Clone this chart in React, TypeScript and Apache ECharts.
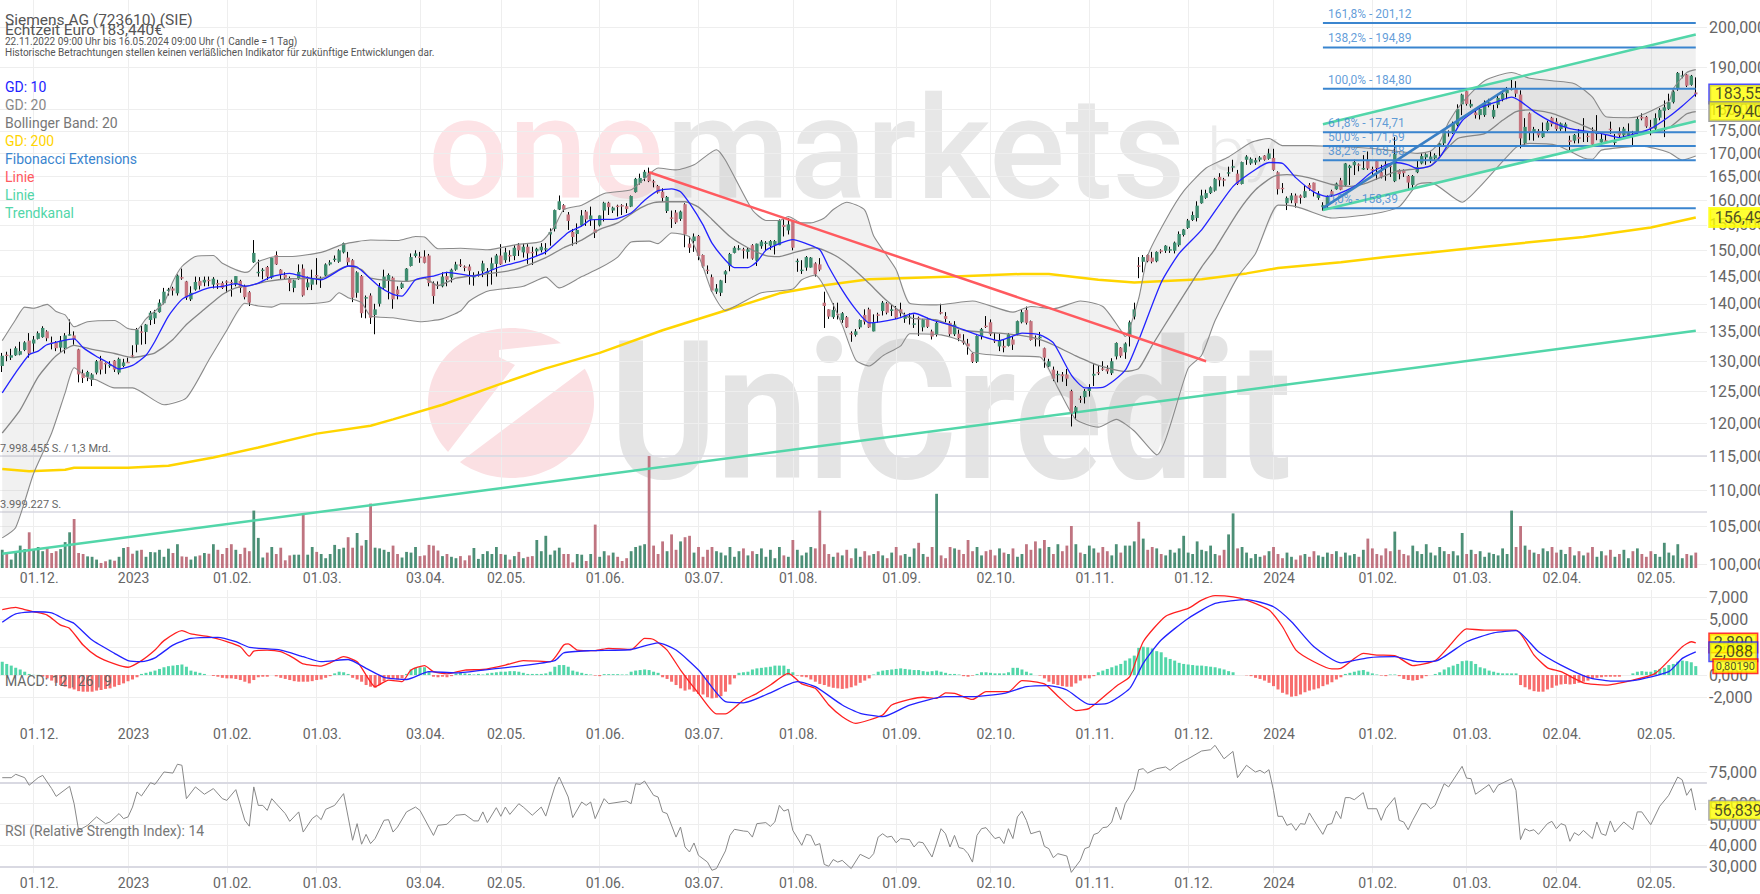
import React, { useEffect, useRef } from "react";
import * as echarts from "echarts";

// [open, close, low, high], one row per trading day, 22.11.2022 - 16.05.2024
const candles = [
[129.2,130.9,128.2,131.4],[131.1,131,130,131.6],[130.6,131,130.2,132.1],[131,132.2,130.9,132.5],[131.1,131.7,131,133.3],
[131.9,133.2,131.7,133.4],[133.5,131.3,130.6,134.8],[133,133.7,131.6,134.3],[133.8,134.8,133.7,135.1],[134.1,135.7,134,136],
[135.1,133.9,133.4,135.3],[133.2,133,132,134.2],[133.2,132.2,131.7,133.4],[132.3,133.5,131.4,134.3],[132.2,134.4,131.3,134.8],
[134.5,134.6,134.4,137.2],[134.4,133.7,132.8,135.1],[132,127.8,126.5,132.1],[128,127.2,126.4,128.6],[127.4,128.2,126.7,128.4],
[126.9,127.8,125.9,128],[128.1,130,127.8,130.2],[130.1,128.6,127.8,130.9],[129.7,129.5,127.9,129.8],[129.2,129.4,128.9,130],
[130.1,128.6,128.2,130.2],[128.1,130.4,127.8,130.6],[129.2,129.8,129,130.4],[129.9,129.8,129.7,130.6],[131,130.9,130.6,132.7],
[132.8,135.4,131.5,135.7],[135.1,134.9,132.8,136.1],[135,136.3,132.9,136.4],[137.1,138.4,136.2,138.7],[137.4,138.4,136.4,138.9],
[138.5,140.2,138.4,140.8],[140.1,142.2,139.9,142.9],[142.5,142.6,141.5,142.9],[142.8,142.4,141.5,143.1],[141.9,145.2,141.5,145.4],
[144.9,144.8,144.4,146.5],[144.1,141.1,140.7,144.2],[140.8,142,140.5,143.2],[142.6,144,142.4,145],[144.2,143.3,142.6,144.9],
[143.9,144.4,143.2,145],[144.4,144.2,143.2,145],[143.5,144.6,142.8,144.9],[143.8,143.5,142.7,144.4],[143.8,142.9,142.7,144.1],
[144.1,143.9,142,144.3],[144,143.8,141.3,144.4],[143.5,145.1,143.2,145.1],[144.2,142.9,142,144.4],[143.2,141.2,140.8,143.5],
[142.1,140.2,139.6,142.3],[147.7,149.5,147.6,152],[145.8,145.9,145,148.2],[146.2,146.3,144.5,146.6],[146.8,145,144.4,147],
[144.8,148.6,144.6,148.6],[149.1,147.3,147.2,149.8],[146.3,145.4,144.4,146.4],[145.3,144.8,144.4,145.8],[144.7,143.8,142.3,145],
[142.9,144.3,142.1,144.4],[144.7,145.9,144.4,147.3],[146.5,141.5,141.3,147.3],[143,143.9,142.5,145],[143.5,144.7,142.5,146.3],
[145.3,145.1,143.5,148.5],[144.6,144.7,142.9,145],[145.2,147.3,145,147.5],[147.3,147.7,147.1,148.1],[148.2,148.4,147.8,149],
[147.8,150,147.6,150.2],[149.6,151.4,149.4,151.5],[148.6,147.7,147,149.7],[148.1,141.1,140.3,148.3],[142,145.8,141.1,146],
[145.1,138.3,137.5,145.3],[141.1,141.2,137.4,141.5],[141.5,137.5,136.4,141.9],[138,139,134.6,140],[140,143.1,139.5,143.8],
[142.9,145,142.7,146.3],[144.3,145.3,140.8,145.6],[144.8,140.8,139.1,145],[142.6,141.7,140.8,143.2],[142.9,143.7,142.7,143.9],
[144.2,146.5,144.1,146.6],[147,148.7,146.9,149.4],[148.9,149.4,148.6,150],[148.8,148.5,147.6,149.7],[148.8,147.6,147.5,150],
[149,143.8,143.2,149.3],[143.8,141.4,140,144.1],[143.5,143.4,142.7,144.1],[143.2,145,143,145.8],[145.1,144.4,143.2,145.9],
[144.8,146.3,143.9,146.5],[146.3,147.3,146.1,147.8],[147.3,147.2,146.8,148.3],[146.9,146.8,146,147.1],[146.9,146.1,143.5,147.3],
[145,145.1,143.3,145.8],[145.4,145.5,145,146],[146,147.5,144.9,148],[145.6,146,143.2,146.6],[146.3,147.5,143.5,148.6],
[147.4,149,145,149.3],[149,147.3,147.2,151.2],[148.1,149.6,147.6,150.5],[149.1,148.8,147.8,150],[148.9,150.5,148.1,151],
[151,150,148.9,151.4],[149.6,150.7,148.6,151.3],[150.7,149.4,147.4,151.2],[149.7,149.6,147.2,150.7],[149.8,150.3,148.9,150.5],
[150,150.7,149.6,151.4],[150.2,150.4,149.2,151.4],[153.1,153.6,150.9,154.3],[154.2,158,153.7,158.1],[158.1,159.8,158,161],
[159,158.1,157.6,159.2],[157.1,155.8,154,157.6],[153.6,152.6,150.9,154.2],[153.2,154,151.2,155.3],[154.9,156.9,154.7,158],
[157.7,156.1,154.8,158],[156.1,156.9,154.8,158.7],[154.1,153.4,152.4,156.1],[154.9,156.9,154.7,156.9],[157.9,159.5,155.7,159.7],
[159.5,158.6,157,159.7],[157.9,158.5,157.4,158.7],[158.9,158.7,156.7,159.1],[159,158.8,157,159.2],[158.8,158.2,157.4,159.4],
[158.7,160.9,158.6,161],[161.7,164.5,161.6,164.7],[163.6,164.7,163.3,165.6],[164.7,166,164,166.4],[165.8,164,163.8,166.9],
[164,163.9,162.7,164.3],[163,161.6,161.4,163.2],[161.8,160.5,159.7,162.5],[157.8,160.7,157.4,160.9],[156.5,156.4,154.4,157.9],
[157.5,155.5,155.2,158],[156.2,157.7,155.8,157.9],[159.2,153.1,150.6,159.4],[151.3,150.5,149.5,152.7],[151.8,152.7,149.7,153.3],
[152.8,148.9,148.1,153],[149.1,146.9,146.7,149.2],[146.3,146.1,145.5,147.1],[144.9,142.4,142.2,145.4],[142.2,142.8,141.8,143.6],
[142,144.3,141.4,144.4],[145.4,146,143.8,146.2],[147,149.3,146,149.5],[149.5,150.5,149.4,150.8],[150.3,150.4,150,151],
[150.2,150.1,148.4,150.5],[149.7,150.2,148.4,150.5],[151,148.4,148.2,151.2],[148,151.3,147,151.3],[150.8,151.7,150.3,152],
[151.4,151.5,149.9,151.8],[150.9,151.8,150.1,152],[151,151.8,149.2,152],[151,155.9,151,156.1],[155,154.6,152.7,156.1],
[153.9,155.1,153.1,156.4],[155.8,150.5,150,156],[147.9,148,145.9,148.4],[146.1,146.3,145.5,148.1],[146.7,148.7,146.1,148.9],
[146.7,148.6,146.7,148.7],[147.5,145.4,145,147.7],[147.3,146.3,146,148.5],[140.2,139.6,135.7,142.2],[139,137.7,137.3,139],
[137.6,138.9,137.3,140.1],[138.2,138,137.2,140.2],[137.1,138.3,136.6,138.5],[137.6,135.8,135.7,137.8],[134.8,134.6,133.3,135.1],
[134.5,135.1,134.2,135.5],[135.8,137.1,135.5,137.2],[138,136.8,136.3,139],[139,135.8,135.7,139.3],[135.1,136.6,135.1,138.1],
[138.1,137.9,136.6,138.4],[138.7,140.2,137.9,140.5],[140.1,138.4,138.1,140.3],[138.7,139,137.8,139.9],[139,137.5,137.3,139.6],
[139,138.3,137.7,140.2],[137.3,137.9,136.6,138.4],[137.6,137.7,136.3,138.3],[136.4,136.5,135.7,138.1],[137.5,137.3,134.3,137.7],
[135.8,137.2,135.1,137.3],[137.2,135.9,135.7,137.5],[135.1,134.2,133.7,135.4],[134.6,136.6,134.2,136.9],[138.5,138.4,138.1,140],
[137.8,137.3,136.7,138.5],[136.6,134.6,134.2,136.9],[134.6,136.3,134.3,136.9],[134.7,133.9,133.4,135.4],[133.5,133.1,132.8,134.6],
[133,132.5,131.1,133.8],[131.3,129.9,129.7,131.4],[129.9,134.3,129.7,134.4],[134.3,135.5,133.7,135.7],[136.1,136,135.7,137.8],
[136.7,134.6,134.3,137.2],[133.6,133.5,133.1,134.8],[132.5,133.6,131.7,134.7],[132.6,132.3,131.5,133.7],[132.6,134.6,132.5,134.8],
[133.7,132.8,131.9,134.3],[134.6,136.9,134.4,137],[136.7,138.5,136.5,139],[138.9,136.6,136.3,139.5],[136.9,133.6,133.5,137],
[134,133.9,132.5,134.4],[133.9,134.2,132.5,135],[132.2,130.6,128.9,132.3],[129.1,130,129,130.4],[128.6,127.1,126.7,129.1],
[127.7,127.9,126.5,128.4],[127.8,127.5,126.6,128.2],[127.8,127.1,125.9,128.7],[125.1,121.6,119.5,125.3],[121.7,122.5,120.6,122.7],
[123.9,123.7,123.2,124.3],[124.1,125.1,123.1,125.4],[125.1,125.7,124.2,126.2],[127.6,127.9,125.9,129.5],[128.2,128,127.7,129.2],
[128.8,128.6,128.4,130],[128.7,128.3,127.9,129.3],[128,130,127.7,130.5],[130.8,133.1,130.3,133.2],[132.3,130.9,130.6,132.4],
[131.5,133,130.4,133.2],[134.2,136.7,132.5,137],[137.7,139,137.2,140.2],[147.1,147,144.7,148.7],[147.8,148.7,145.8,149.1],
[149.1,147.9,147.7,149.2],[148.6,147.8,147.5,149.7],[147.9,149.7,147.7,149.8],[150,149.9,149.4,150.2],[149.9,150.9,149.5,151],
[150.1,150.2,149.5,150.7],[149.9,151.5,149.4,151.7],[151,153.2,150.7,153.7],[153,154.1,152.7,154.2],[154.4,155.9,154.2,156.2],
[156,157,155.8,157.7],[156.4,158.9,155.7,159.8],[159.4,161,159.3,162.2],[160.5,161.5,160.3,162.2],[161.5,162.7,161.3,162.9],
[162,164.5,161.8,164.7],[164.9,164.2,162.9,165.7],[164.4,164.2,162.9,164.7],[165.8,165.9,165,167.1],[167,167.2,166,168.6],
[165.6,163.4,163.2,166.4],[163.4,168.1,163.3,168.2],[168.6,169.3,167.5,169.6],[167.8,168.8,167.5,169.1],[168,168.5,167.5,169],
[168.6,169.1,168.2,169.4],[169.5,168.6,168.4,169.6],[168.8,170,168.6,171],[169,166.4,166.2,171],[165.9,162.3,161.2,166.1],
[162.6,162.4,161.5,163.6],[159.4,160.5,158,160.8],[160,161,159.4,161.5],[161,159.4,158.5,161.4],[161,160.5,159.3,161.2],
[160.6,161.9,160.5,163.2],[163.2,162.5,162,163.6],[163.7,161.9,160.8,163.7],[160.5,161.4,160.1,161.9],[158.6,159,157.9,159.6],
[159,160.8,158.1,161],[161.9,161,160.8,162.2],[162.3,163.5,162.2,163.7],[164.2,162.2,162.1,164.7],[163.1,167.8,162.9,167.9],
[166.8,167.3,163.2,167.5],[167.4,168.1,165.3,168.6],[167.6,167.5,166.1,167.8],[166.7,166.8,166.4,169.6],[168.4,166.7,166.4,170.4],
[166.6,166.5,165.1,167.1],[168.3,166.8,164.3,168.5],[165.9,164.9,164.6,167.5],[167.6,167.4,164.1,168.3],[167.3,167.2,164.9,167.6],
[164,169.9,163.8,173.6],[166.4,165.5,164.4,166.5],[166.2,165.7,164.9,166.5],[165.1,163.7,162.1,165.3],[163.2,165.1,162.1,165.3],
[165.9,167,165.7,168.4],[167.8,169.4,167.6,170],[169.1,169.8,167.5,170],[168.6,169.3,167.9,170.4],[168.9,169.6,168.6,170],
[171.4,172.2,169.3,172.3],[172.2,175,171.8,175.4],[174.8,174.6,173.7,175.1],[174.7,176.7,174.3,177.1],[176.3,180,176,181.1],
[181.1,183.4,178.6,183.6],[184.2,181.2,180.8,184.4],[180.6,181.2,180.3,182.2],[179.2,178.6,177.8,179.8],[178.6,180,177.6,180.8],
[178.6,181.2,178.2,182],[180.8,181.6,180.4,182.4],[178.2,179.8,177.8,181],[181,182.6,180.2,183.2],[182.3,183.6,181.8,184],
[183.7,184.5,182.3,185.2],[184.7,184.8,184.4,187],[184.8,183.6,182.8,186.6],[183.4,173.3,171.1,184.4],[172.2,175.9,171.8,177.9],
[179,174.7,172.9,179.2],[174.7,175.4,172.8,175.9],[175,174,173.5,175.4],[173.6,175,173.4,176.9],[175.2,176.9,174.9,177.3],
[178,176.5,176,178.2],[177.1,175.4,175,177.9],[175.4,176.7,175,176.9],[175.8,176.5,174.7,176.9],[172.9,172.5,170.4,173.9],
[172.8,174.1,172.2,174.3],[173.6,173.2,172.2,175.4],[174.8,174.9,172.5,177.9],[173.9,173.6,172.5,174.7],[175,171.9,171.6,175.8],
[174.5,174.6,172.9,178.6],[172.4,173.2,172.1,174.3],[172.9,172.5,172.2,174.3],[175.5,175.4,174.3,177.1],[172.5,172.6,171.8,174.3],
[174.9,174,173.6,175.8],[174,175.5,173.6,175.9],[174,174.5,173.6,176.7],[174.3,174,171.8,175],[174.6,177.7,174.3,178.2],
[178.2,177.8,177.4,179],[178.2,176,175.7,178.4],[175.9,175.5,174,177.5],[175.5,177.9,174.9,179],[178,179.8,177.4,180.2],
[179.6,180.4,173.6,182],[180,181.6,179.8,183.6],[181.6,184.1,181.3,184.4],[184.8,188.6,184.3,188.8],[187.9,188,187.3,189.1],
[188.2,185.5,185.2,188.3],[185.7,187.9,185.5,188.1],[183.9,183.44,182.9,187.5],
];

// volume per day, million shares
const volume = [
1.3,1.14,.6,1.2,1.6,1.35,2.55,1.35,1.5,1.2,
1.43,1.07,1.2,1.35,1.85,2.55,3.5,1.07,1.0,.83,
.8,.6,.36,.48,.6,.52,.8,1.43,1.5,1.02,
1.24,1.3,.8,1.14,1.12,1.3,.8,1.38,1.07,1.7,
.83,.8,.6,.83,.9,1.07,1.02,1.7,1.3,1.0,
1.43,1.7,1.3,1.0,1.45,1.2,4.1,2.15,.75,1.1,
1.5,1.0,1.45,.55,.9,.95,.95,3.9,.95,1.5,
1.15,1.0,.7,1.0,1.65,1.35,1.45,2.2,1.45,2.5,
1.6,2.0,4.6,1.45,1.4,1.3,1.15,1.6,1.0,.75,
1.15,1.1,1.5,.85,.9,1.65,1.6,1.25,.85,1.0,
.8,.7,.85,.55,.9,1.43,.65,1.0,1.2,1.0,
1.5,1.0,.95,.6,.85,1.15,.7,.8,.85,2.0,
1.2,2.3,.95,1.25,1.45,1.0,1.0,.4,1.0,.95,
.5,1.0,3.1,.8,1.2,.9,1.1,.8,.5,.7,
1.2,1.5,1.6,1.7,8.0,1.6,1.0,1.9,1.2,2.4,
1.3,1.9,2.2,2.3,1.1,1.5,.8,1.3,1.5,1.2,
1.1,.9,1.5,.8,1.2,1.4,.9,1.2,1.0,1.4,
.8,1.3,.7,1.5,.9,.8,2.0,1.3,.9,1.1,
1.5,1.4,4.1,1.7,1.0,.8,1.1,.9,1.3,.7,
1.4,.8,1.2,.9,1.0,1.2,.9,.7,1.1,1.5,
.9,1.0,.8,1.4,1.8,1.0,.8,1.5,5.3,.9,
.7,1.5,1.4,1.3,1.0,2.0,1.2,1.5,.9,1.2,
1.3,.9,1.4,1.1,1.0,1.4,.8,1.0,1.7,1.3,
1.9,1.4,2.0,1.5,1.0,1.7,1.2,1.6,3.0,1.7,
1.1,1.0,1.6,1.4,1.1,1.5,1.2,.9,1.7,1.1,
1.6,1.6,1.9,3.3,2.1,1.3,1.5,1.4,1.0,.9,
1.3,1.1,1.4,2.3,1.1,1.0,1.9,1.3,1.2,1.6,
1.0,.9,1.3,2.4,3.9,1.4,1.5,1.1,.7,1.0,
.8,.9,1.2,1.5,1.0,.7,1.1,.8,.6,.9,
1.0,.8,1.2,.9,.8,1.1,1.0,1.2,.8,1.1,
.9,1.0,.8,1.3,2.1,1.4,1.0,.9,1.4,1.2,
2.6,1.3,1.0,.9,1.6,1.2,1.0,1.7,1.1,.9,
1.5,1.2,1.0,1.2,.9,2.5,1.0,1.3,1.0,1.2,
.8,1.1,1.0,.9,1.4,1.0,4.1,1.5,3.0,1.6,
1.3,1.1,1.0,1.4,1.2,1.5,1.1,1.3,1.0,1.5,
.9,1.2,.9,1.1,1.5,.8,1.2,.9,1.3,.8,
1.0,1.3,.7,1.2,1.4,1.0,.8,1.2,1.0,.8,
1.8,1.1,.9,1.7,.7,1.0,.9,1.1,
];

const macdHist = [
1.2,1.0,.85,.65,.5,.3,.1,.02,.02,-.15,
-.3,-.5,-.7,-.9,-1.05,-1.2,-1.3,-1.45,-1.5,-1.5,
-1.5,-1.4,-1.35,-1.25,-1.2,-1.05,-.9,-.75,-.55,-.4,
-.2,.1,.2,.3,.4,.55,.7,.8,.85,.9,
.95,.75,.4,.3,.2,.1,0,-.08,-.15,-.25,
-.3,-.3,-.35,-.45,-.6,-.75,-.45,-.2,-.15,-.15,
0,-.12,-.25,-.35,-.45,-.55,-.6,-.6,-.6,-.55,
-.45,-.4,-.25,-.1,.15,.3,.25,.1,-.25,-.4,
-.6,-.9,-1.05,-1.15,-.9,-.55,-.3,-.35,-.4,-.3,
.1,.5,.65,.7,.7,.3,-.15,-.2,-.15,-.2,
-.1,.15,.2,.15,.1,.05,.1,.05,.15,.2,
.25,.3,.3,.35,.35,.3,.2,.1,.1,.1,
.1,.15,.3,.75,.9,.9,.75,.4,.3,.2,
.1,.05,-.05,-.1,.08,.08,.08,.08,.05,.05,
.3,.4,.45,.5,.45,.3,.2,-.2,-.35,-.6,
-.9,-1.2,-1.4,-1.3,-1.5,-1.7,-1.75,-2.0,-2.1,-2.05,
-1.9,-1.5,-.85,-.3,.2,.25,.3,.5,.6,.65,
.7,.75,.85,.85,.85,.55,.25,-.05,-.15,-.2,
-.4,-.6,-.8,-.9,-1.05,-1.15,-1.2,-1.25,-1.2,-1.1,
-.95,-.7,-.5,-.3,.05,.3,.4,.45,.5,.55,
.6,.55,.5,.45,.45,.35,.3,.35,.4,.3,
.2,.1,.1,.05,-.1,-.15,-.05,.1,.25,.25,
.2,.15,.15,.15,.25,.65,.65,.5,.3,.15,
0,-.05,-.3,-.6,-.8,-.9,-1.0,-1.05,-1.05,-.75,
-.5,-.3,-.3,-.1,.25,.4,.55,.7,.85,1.0,
1.3,1.5,1.75,2.45,2.55,2.5,2.4,2.15,2.05,1.6,
1.45,1.3,1.1,1.0,.95,.9,.85,.85,.8,.75,
.7,.6,.5,.35,.25,0,0,-.03,-.1,-.25,
-.35,-.5,-.7,-1.0,-1.3,-1.6,-1.75,-1.95,-1.9,-1.75,
-1.55,-1.4,-1.3,-1.2,-1.0,-.85,-.65,-.4,-.2,.1,
.2,.3,.4,.45,.3,.15,.05,-.05,-.1,.05,
.05,-.1,-.35,-.45,-.5,-.45,-.3,-.1,0,.1,
.25,.5,.7,.85,1.0,1.25,1.3,1.25,1.0,.7,
.6,.4,.3,.2,.15,.15,.15,.15,-.9,-1.1,
-1.3,-1.45,-1.5,-1.5,-1.3,-1.15,-.95,-.85,-.8,-.85,
-.8,-.7,-.6,-.5,-.35,-.25,-.2,-.15,-.15,-.15,
-.15,0,0,.15,.3,.35,.3,.3,.45,.55,
.65,.9,1.0,1.2,1.3,1.25,1.15,.8019,
];

// curves at their visible vertices: [day index, value]
const gd10 = [[0,124.8],[3,128.1],[6,131.1],[8,131.7],[10,132.8],[16,133.8],[18,132.3],[21,130.8],[23,130],[26,128.7],[29,129.3],[32,131],[34,133.4],[37,137.8],[40,140.8],[43,142],[46,142.9],[49,143.2],[52,143.7],[54,143.2],[57,143.8],[60,145],[64,145.6],[67,145],[71,144.4],[77,147],[79,146.8],[84,143.1],[87,141.7],[89,141.4],[92,144.4],[96,145.1],[99,145.8],[105,145.1],[111,146.9],[116,148],[121,149.7],[126,153.5],[129,154.8],[131,156],[134,156.1],[136,156.1],[140,157.4],[143,160],[146,162],[149,162.4],[151,161.8],[153,159.4],[156,155],[158,151.4],[161,148.1],[163,146.7],[166,146.7],[168,147.8],[170,150],[173,151.3],[176,152.1],[179,151.3],[182,150.1],[184,146.8],[187,142.5],[190,139],[193,136.6],[199,137.3],[203,138.3],[207,137.1],[212,136],[216,134.8],[222,133.5],[224,134],[227,134.8],[231,134.5],[234,133.1],[238,127.7],[241,125.6],[245,125.7],[250,128.5],[253,133.6],[258,143.9],[262,149.4],[267,154],[274,162.9],[279,166.5],[282,168],[285,167.8],[288,164.7],[292,161.7],[295,160.8],[297,161.2],[301,162.9],[305,166],[310,168],[313,167.5],[315,166.7],[318,167.3],[320,169.1],[322,172.2],[325,177.3],[329,180.3],[333,181.8],[336,182.8],[338,181.8],[341,179.4],[345,177],[349,175.5],[352,175],[356,174.4],[360,173.5],[363,174.2],[367,175.5],[371,178.2],[374,180.7],[377,183.556]];
const gd20 = [[0,118.5],[4,122.1],[8,127.4],[12,130.9],[16,132.7],[20,132],[25,131.3],[29,130.6],[32,131],[34,131.4],[38,133.7],[41,136.3],[45,139],[49,141.7],[52,142.9],[55,143.3],[59,144.1],[64,144.6],[71,144.7],[77,147],[80,146.3],[82,144.7],[90,144.1],[94,144.7],[97,143.3],[101,144.7],[106,145.3],[114,146.3],[121,148.6],[125,150.5],[129,152],[133,154.1],[137,155.4],[142,158.4],[145,159.5],[148,159.7],[152,159.7],[155,158.6],[158,156.1],[162,152.7],[166,150.5],[170,149],[173,148.8],[176,149.5],[181,150.5],[183,150],[186,148.7],[189,146.8],[193,143.7],[197,140.5],[202,137.5],[208,137.1],[214,135.3],[222,134.8],[229,134.1],[233,133.1],[239,130.9],[244,129.3],[250,128.3],[253,128.8],[256,132.7],[261,139],[267,146.8],[270,150.3],[275,157.5],[279,162.2],[283,165],[286,165.4],[291,164.7],[296,163.3],[300,162.9],[304,163.7],[310,166],[315,166.7],[318,167.3],[324,173.3],[330,174.4],[334,177.4],[337,179.4],[340,179.8],[345,179],[352,176.2],[356,174.6],[367,174.6],[371,175.7],[375,178.9],[377,179.405]];
const bbUpper = [[0,133.5],[3,137.2],[5,139.4],[7,139.2],[10,139.9],[12,138.6],[14,138],[16,135.9],[19,136.8],[25,137],[28,135.6],[30,135.4],[32,137.3],[36,140.2],[38,144.1],[40,146.9],[43,148.8],[47,149],[49,147.5],[54,145.8],[55,146],[57,147.8],[61,148.8],[64,148.8],[71,149.6],[76,151.2],[82,152],[88,151.9],[92,152.7],[94,152.6],[97,150.3],[102,150.4],[108,150.1],[115,151.2],[120,151.7],[123,154.8],[125,158.1],[129,159],[134,161.4],[140,162.2],[143,164.6],[146,166.8],[150,166.4],[154,167.5],[159,170.8],[161,168.5],[167,158],[170,155.9],[173,155.9],[175,156.7],[178,155.4],[180,155.4],[183,156.4],[185,158.1],[188,159.6],[192,158],[194,152.8],[199,146.3],[202,140.1],[208,139.8],[216,140.5],[225,138.5],[229,139.5],[234,139.1],[240,140.5],[245,139.5],[249,135.3],[250,134.2],[253,141],[255,149],[259,156],[263,161.9],[268,166.8],[273,169.2],[278,172.4],[282,173.3],[285,171.7],[291,171.7],[297,171.5],[300,171.4],[306,171],[310,170.5],[315,170],[318,170.5],[320,172.5],[322,177],[325,181.5],[330,186.7],[336,188.7],[340,187.3],[345,186.7],[350,186],[354,182.8],[357,178.2],[362,178],[364,178.2],[371,181.8],[372,184.8],[375,188.7],[377,189.4]];
const bbLower = [[0,103.5],[3,104.9],[7,112.5],[11,118.5],[14,124.8],[16,128.9],[19,127.3],[21,126.9],[25,125.6],[29,125.6],[36,122.9],[41,124],[46,130.2],[50,135.3],[54,140.1],[57,139.6],[60,139.4],[62,140],[64,140],[70,140.1],[73,140.5],[75,142],[77,141.1],[80,140.2],[82,137.8],[87,137.5],[93,136.8],[98,137.3],[102,138.7],[104,140.5],[108,142.3],[116,143.2],[121,144.9],[124,142.9],[129,145],[133,146.6],[137,148.7],[140,151.6],[144,151.8],[146,151.3],[149,153.4],[153,152.6],[156,146.8],[158,142.2],[161,138.8],[164,139.9],[169,142],[176,142.7],[178,144.4],[181,145.3],[183,143.1],[187,136.2],[190,130.2],[193,129.2],[196,130.9],[200,132.6],[202,134.7],[209,134.5],[214,133.3],[216,131.5],[223,130.9],[231,130.7],[235,125.6],[239,120.6],[244,119.4],[248,120.6],[252,118.8],[257,115.2],[264,128.8],[267,131],[270,137],[275,144.9],[279,149.4],[284,159],[288,158.7],[294,156.8],[296,156.4],[305,157.2],[311,158.7],[315,163.3],[318,163.7],[325,159.6],[329,162.9],[337,171.3],[340,172.2],[346,171.8],[352,169],[354,168.7],[356,170.7],[365,171.6],[371,170.2],[374,168.5],[377,169.4]];
const gd200 = [[0,113.1],[6,112.8],[14,113],[16,113.3],[28,113.3],[37,113.6],[47,114.8],[57,116.3],[70,118.4],[82,119.6],[87,120.6],[98,122.9],[110,126],[121,128.8],[133,131.4],[147,135.3],[161,138.8],[173,141.9],[183,143.4],[193,144.5],[212,145],[227,145.5],[233,145.5],[244,144.4],[252,143.9],[267,144.5],[277,145.6],[284,146.6],[298,147.7],[308,148.7],[318,149.6],[330,150.7],[352,152.6],[367,154.5],[377,156.491]];
const macdLine = [[0,5.9],[3,6.1],[5,5.9],[7,5.7],[10,5.4],[13,4.5],[15,4.2],[18,2.7],[21,1.7],[25,1],[28,.7],[31,1.3],[34,2.25],[36,3.1],[40,4],[42,3.7],[46,3.45],[50,3],[53,2.55],[55,1.7],[56,2.15],[59,2.25],[62,2.1],[65,1.5],[67,1],[71,.8],[73,1.1],[76,1.65],[79,1.2],[81,0],[83,-1.05],[86,-.45],[89,-.6],[91,.45],[94,.85],[96,.3],[99,.1],[103,.45],[107,.5],[112,.9],[116,1.3],[122,1.2],[125,2.7],[126,2.8],[128,2.25],[132,2.2],[135,2.4],[140,2.3],[143,3.3],[145,3.2],[148,2.25],[151,.45],[155,-1.65],[159,-3.5],[161,-3.5],[165,-2.25],[168,-1.65],[171,-.9],[175,.15],[178,-.8],[181,-1.2],[184,-2.7],[187,-3.75],[190,-4.35],[193,-4.05],[196,-3.6],[198,-2.7],[202,-2.2],[205,-2],[208,-2.1],[210,-1.6],[212,-1.65],[216,-2.2],[219,-1.5],[224,-1.5],[227,-.5],[232,-.8],[235,-1.9],[239,-3.2],[242,-3],[248,-1],[251,-.15],[254,3],[259,5.3],[264,6],[267,6.75],[270,7.15],[274,7.05],[277,6.75],[282,5.85],[285,4.35],[288,2.25],[292,1.2],[296,.55],[298,.6],[303,1.95],[306,1.8],[310,1.75],[314,.85],[319,1.3],[322,2.55],[326,4.15],[330,4.05],[337,4.05],[341,1.8],[344,.65],[347,.3],[352,-.7],[357,-.9],[363,-.45],[368,.15],[374,2.55],[376,3],[377,2.89]];
const macdSignal = [[0,4.75],[3,5.5],[7,5.7],[11,5.6],[14,5],[16,4.65],[20,3.15],[25,1.95],[28,1.3],[31,1.2],[34,1.55],[38,2.7],[42,3.3],[48,3.4],[52,3],[55,2.5],[62,2.25],[67,1.65],[71,1.2],[77,1.4],[81,.6],[85,-.2],[90,-.4],[95,.3],[101,.2],[107,.45],[115,.8],[123,1.3],[125,2],[131,2.2],[140,2.3],[146,2.9],[150,2.25],[155,.45],[161,-2.4],[165,-2.5],[171,-1.6],[177,-.6],[181,-1.05],[187,-2.7],[191,-3.45],[196,-3.75],[202,-2.7],[210,-1.95],[216,-1.95],[223,-1.65],[228,-1.05],[233,-.95],[237,-1.35],[242,-2.65],[246,-2.55],[251,-1.2],[254,1.05],[258,3.15],[264,5.1],[270,6.45],[277,6.8],[283,6.15],[287,4.8],[292,2.55],[298,1.1],[304,1.55],[310,1.65],[315,1.2],[319,1.25],[326,3],[332,3.8],[337,4],[342,2.1],[347,.9],[353,-.2],[358,-.55],[363,-.5],[371,.3],[374,1.5],[377,2.088]];
const rsi = [[0,72.3],[2,72.3],[3,73.9],[5,72.3],[6,68.7],[8,72.3],[9,73.4],[11,67.1],[12,63.4],[15,68.2],[16,59.9],[17,47.2],[19,49.6],[21,53.6],[23,50.4],[24,51.2],[26,55.2],[27,52.8],[28,53.6],[29,58.3],[30,65.5],[31,63.6],[33,69.9],[34,69.1],[36,75],[38,74.5],[39,78.7],[40,78.2],[41,62.3],[43,67.9],[45,64.4],[47,67.1],[49,62.3],[50,61.5],[52,66.6],[54,52],[55,49.2],[56,67.9],[57,59.1],[58,59.1],[59,56.7],[60,62.3],[61,59.9],[63,55.2],[64,51.5],[66,56],[67,46.4],[69,52.8],[70,54.4],[71,52.3],[72,57.2],[74,59.1],[76,64.7],[77,53.6],[78,42.5],[79,50.4],[80,40.6],[81,45.3],[82,40.9],[83,43.3],[85,52],[86,52.3],[87,46.4],[88,48.8],[90,56],[92,58.3],[93,56.7],[96,44.8],[97,49.6],[99,50.1],[101,54.4],[103,54.8],[105,51.7],[106,51.7],[107,56],[108,50.9],[110,58],[111,53.9],[112,58.3],[113,54.8],[115,59.9],[116,58.3],[118,54.4],[120,58.3],[121,54],[123,67.9],[124,72.6],[126,63.1],[127,53.3],[129,60.7],[130,59.1],[131,60.7],[132,52.8],[134,62.3],[135,59.9],[139,61.2],[140,59.9],[141,69.4],[142,69.1],[143,70.7],[145,63.9],[146,63.1],[147,56],[148,55.2],[150,44],[151,48.8],[152,39.3],[153,36.9],[154,41.2],[155,35.3],[157,32.1],[158,28.2],[159,29],[161,37.4],[162,44.8],[163,47.7],[165,46.9],[166,46.7],[167,44],[168,50.4],[170,50.9],[171,49.1],[172,51.2],[173,59.1],[174,56.4],[175,57.2],[176,47.2],[178,40.1],[179,45.3],[180,44.8],[181,40.1],[182,40.9],[183,31],[184,30.1],[185,33.3],[186,32.1],[187,32.9],[189,29],[191,35.8],[193,33.7],[194,36.1],[195,44],[196,45.6],[197,44],[198,44.4],[199,41.3],[200,43.3],[202,42.8],[203,39.3],[204,41.7],[205,41.3],[207,34.5],[209,48],[210,45.6],[211,39.3],[212,44.8],[213,39],[214,38.5],[215,36.1],[216,32.1],[217,44.8],[218,48],[219,48.5],[221,43.3],[222,44],[223,40.9],[224,48],[225,43.3],[226,53.6],[227,56.3],[228,52],[229,45.6],[231,46.9],[232,39.6],[233,38.5],[234,34.2],[235,36.1],[237,35],[238,27.2],[240,32.9],[241,38.5],[242,39.3],[243,45.2],[244,46],[245,48.5],[246,48.8],[247,51.2],[248,58.3],[249,52.3],[250,59.9],[252,66.7],[253,76.1],[254,76.6],[255,74.5],[257,76.6],[259,77.4],[260,75.8],[262,79],[264,81.3],[267,85],[269,85.6],[270,87.7],[272,81.3],[274,84.8],[275,72.3],[277,78.2],[279,75],[280,75.8],[281,74.5],[282,76.1],[283,66.3],[284,53.9],[285,53.9],[286,49.6],[287,50.4],[288,47.2],[289,50.4],[290,50.1],[291,55.5],[292,52],[294,45.3],[295,49.9],[296,50.4],[297,56.4],[298,52.8],[299,62.8],[300,62.8],[301,61.8],[303,65.2],[304,57.5],[306,57.5],[307,52],[308,57.5],[310,62.8],[311,52],[312,51.2],[313,47.5],[314,52],[316,59.9],[317,59.9],[318,57.5],[319,59.1],[321,69.4],[322,67.9],[325,77.7],[326,72.1],[327,71.8],[328,64.4],[331,69],[332,65.2],[333,68.7],[336,71.8],[337,66.3],[338,42.8],[339,48],[340,46.9],[341,47.5],[342,45.3],[344,50.4],[345,51.5],[346,48],[347,50.4],[348,49.6],[349,42],[350,46.1],[351,44.8],[352,47.2],[354,43.3],[355,51.2],[356,45.6],[357,44.8],[358,51.7],[359,46.4],[361,51.2],[363,47.5],[364,56],[365,56],[367,49.9],[369,58.7],[371,63.9],[373,72.6],[374,71.3],[375,63.9],[376,67.1],[377,56.839]];

// drawn tools, endpoints as [day index, price]
const redLine = [[144,165.9],[268,130]];
const tealLine = [[0,101.4],[377,135.2]];
const channelUpper = [[294,176.5],[377,198.2]];
const channelLower = [[294,158],[377,177.2]];
const fibMove = [[294,158.39],[335,184.8]];
const fibLevels = [201.12,194.89,184.8,174.71,171.59,168.48,158.39];
const fibTexts = ["161,8% - 201,12","138,2% - 194,89","100,0% - 184,80","61,8% - 174,71","50,0% - 171,59","38,2% - 168,48","0,0% - 158,39"];

const priceTicks = [200,190,180,175,170,165,160,155,150,145,140,135,130,125,120,115,110,105,100];
const macdTicks = [7,5,2.5,0,-2];
const rsiTicks = [75,60,50,40,30];
const dateTicks: [number, string][] = [[7,"01.12."],[28,"2023"],[50,"01.02."],[70,"01.03."],[93,"03.04."],[111,"02.05."],[133,"01.06."],[155,"03.07."],[176,"01.08."],[199,"01.09."],[220,"02.10."],[242,"01.11."],[264,"01.12."],[283,"2024"],[305,"01.02."],[326,"01.03."],[346,"02.04."],[367,"02.05."]];

const SLOTS = 380;
const FIRST = 294, LAST = 377;
const tickMap = new Map(dateTicks);
const categories = Array.from({ length: SLOTS }, (_, i) => tickMap.get(i) ?? String(i));
const fmt = (d: number) => (v: number) => v.toFixed(d).replace(".", ",");
const fmt3 = fmt(3);

const GREEN = "#3f8d70", PINK = "#c6757f";
const GRID = "#eeeeee", REF = "#d9d9e2", FIB = "#3a85cf", TEAL = "#52d6a9";
const TXT = "#666666", FONT = "Roboto";

function lineSeries(name: string, data: number[][], color: string, width: number, ax: number, z: number, smooth: any = false) {
  return { type: "line", name, data, xAxisIndex: ax, yAxisIndex: ax, showSymbol: false, smooth, z,
    lineStyle: { color, width }, itemStyle: { color }, silent: true };
}
function polySeries(name: string, upper: number[][], lower: number[][], fill: string, z: number) {
  return { type: "custom", name, xAxisIndex: 0, yAxisIndex: 0, z, silent: true, clip: true,
    data: [upper[0]], encode: { x: 0, y: 1 },
    renderItem: (_: any, api: any) => ({ type: "polygon", shape: {
        points: [...upper, ...[...lower].reverse()].map((p) => api.coord(p)) }, style: { fill } }) };
}
function tagSeries(text: string, value: number, ax: number, border: string, size = 16, pad: any = [1, 5], dist = 5, z = 30) {
  return { type: "scatter", name: text, xAxisIndex: ax, yAxisIndex: ax, symbolSize: 0, silent: true, z,
    data: [[SLOTS - 1, value]], label: { show: true, position: "right", distance: dist, formatter: text, color: "#222",
      fontFamily: FONT, fontSize: size, backgroundColor: "#ffff00", borderColor: border, borderWidth: 1.5, padding: pad } };
}
function xAxis(grid: number, show: boolean) {
  return { type: "category", gridIndex: grid, data: categories, boundaryGap: true, show,
    axisLine: { show: false }, axisTick: { show: false },
    axisLabel: { show: true, margin: 3, color: TXT, fontFamily: FONT, fontSize: 14, padding: [0, 0, 0, 11],
      interval: (i: number) => tickMap.has(i), formatter: (v: string) => v },
    splitLine: { show: true, alignWithLabel: true, interval: (i: number) => tickMap.has(i), lineStyle: { color: GRID, width: 1 } } };
}
function text(t: string, x: number, y: number, font: string, fill: string, z = 100, extra: any = {}) {
  return { type: "text", x, y, z, silent: true, ...extra,
    style: { text: t, font, fill, textAlign: "left", textVerticalAlign: "middle" } };
}

export default function App() {
  const ref = useRef<HTMLDivElement>(null);
  useEffect(() => {
    document.body.style.margin = "0";
    document.body.style.overflow = "hidden";
    const chart = echarts.init(ref.current!, null, { renderer: "svg" });
    const bars = (vals: number[], col: (i: number) => string) =>
      vals.map((value, i) => ({ value, itemStyle: { color: col(i) } }));
    chart.setOption({
      animation: false,
      backgroundColor: "#ffffff",
      grid: [
        { left: 0, right: 53, top: 0, height: 568 },
        { left: 0, right: 53, top: 0, height: 568 },
        { left: 0, right: 53, top: 590, height: 134 },
        { left: 0, right: 53, top: 745, height: 128 },
      ],
      xAxis: [
        xAxis(0, true),
        { ...xAxis(1, false) },
        xAxis(2, true),
        xAxis(3, true),
      ],
      yAxis: [
        { type: "log", logBase: 10, gridIndex: 0, min: 99.55, max: 207.2, position: "right",
          axisLine: { show: false }, axisTick: { show: false }, axisLabel: { show: false }, splitLine: { show: false } },
        { type: "value", gridIndex: 1, min: 0, max: 40.57, show: false, splitLine: { show: false } },
        { type: "value", gridIndex: 2, min: -4.41, max: 7.66, position: "right",
          axisLine: { show: false }, axisTick: { show: false, customValues: macdTicks },
          axisLabel: { customValues: macdTicks, formatter: fmt3, color: TXT, fontFamily: FONT, fontSize: 16, margin: 2, padding: [0, 0, 4, 0] },
          splitLine: { show: true, lineStyle: { color: GRID } } },
        { type: "value", gridIndex: 3, min: 26.9, max: 87.86, position: "right",
          axisLine: { show: false }, axisTick: { show: false, customValues: rsiTicks },
          axisLabel: { customValues: rsiTicks, formatter: fmt3, color: TXT, fontFamily: FONT, fontSize: 16, margin: 2, padding: [0, 0, 4, 0] },
          splitLine: { show: true, lineStyle: { color: GRID } } },
      ],
      graphic: { elements: [
        text("one", 428, 149, `500 142px ${FONT}`, "#fde3e6", -5),
        text("markets", 666, 149, `500 142px ${FONT}`, "#e7e7e7", -5),
        text("by", 1207, 150, `300 60px ${FONT}`, "#ececec", -5, { scaleX: 1.15 }),
        { type: "ellipse", z: -5, silent: true, shape: { cx: 511, cy: 403, rx: 83, ry: 75 }, style: { fill: "#fbe0e3" } },
        { type: "polygon", z: -4, silent: true, shape: { points: [[499,350],[563,343],[585,353],[587,367],[452,468],[444,463],[448,452],[515,365],[499,357]] }, style: { fill: "#ffffff" } },
        text("UniCredit", 610, 412, `700 193px ${FONT}`, "#e4e4e4", -5, { scaleX: 0.84 }),
        text("Siemens AG (723610) (SIE)", 5, 20, `15.5px ${FONT}`, "#555"),
        text("Echtzeit Euro 183,440€", 5, 30, `15.5px ${FONT}`, "#555"),
        text("22.11.2022 09:00 Uhr bis 16.05.2024 09:00 Uhr (1 Candle = 1 Tag)", 5, 41, `10px ${FONT}`, "#555"),
        text("Historische Betrachtungen stellen keinen verläßlichen Indikator für zukünftige Entwicklungen dar.", 5, 52, `10px ${FONT}`, "#555"),
        text("GD: 10", 5, 87, `14px ${FONT}`, "#2222ff"),
        text("GD: 20", 5, 105, `14px ${FONT}`, "#888888"),
        text("Bollinger Band: 20", 5, 123, `14px ${FONT}`, "#777777"),
        text("GD: 200", 5, 141, `14px ${FONT}`, "#ffd500"),
        text("Fibonacci Extensions", 5, 159, `14px ${FONT}`, FIB),
        text("Linie", 5, 177, `14px ${FONT}`, "#ff5a5f"),
        text("Linie", 5, 195, `14px ${FONT}`, TEAL),
        text("Trendkanal", 5, 213, `14px ${FONT}`, TEAL),
        text("MACD: 12 | 26 | 9", 5, 681, `14px ${FONT}`, "#666"),
        text("RSI (Relative Strength Index): 14", 5, 831, `14px ${FONT}`, "#777"),
      ] },
      series: [
        // price gridlines and labels, placed by the log scale
        { type: "line", name: "priceGrid", xAxisIndex: 0, yAxisIndex: 0, data: [[0, 150]], showSymbol: false, silent: true, lineStyle: { opacity: 0 }, z: 0,
          markLine: { silent: true, symbol: "none", z: 1, lineStyle: { color: GRID, width: 1, type: "solid" },
            label: { show: true, position: "end", distance: 2, formatter: (p: any) => fmt3(p.value), color: TXT, fontFamily: FONT, fontSize: 16, padding: [0, 0, 4, 0] },
            data: priceTicks.map((v) => ({ yAxis: v })) } },
        polySeries("Bollinger Band", bbUpper, bbLower, "rgba(170,170,170,0.17)", 1),
        polySeries("Trendkanal Fläche", channelUpper, channelLower, "rgba(140,140,140,0.13)", 1),
        // volume
        { type: "bar", name: "Volumen", xAxisIndex: 1, yAxisIndex: 1, barWidth: 2.8, silent: true, z: 2,
          data: bars(volume, (i) => (candles[i][1] >= candles[i][0] ? "#4c8f76" : "#bf7480")),
          markLine: { silent: true, symbol: "none", z: 1, lineStyle: { color: REF, width: 1.5, type: "solid" },
            label: { show: true, position: "insideStartTop", distance: [0, 2], color: "#666", fontFamily: FONT, fontSize: 11 },
            data: [{ yAxis: 7.998455, label: { formatter: "7.998.455 S. / 1,3 Mrd." } }, { yAxis: 3.999227, label: { formatter: "3.999.227 S." } }] } },
        lineSeries("GD: 200", gd200, "#ffd500", 2.5, 0, 3),
        lineSeries("Linie grün", tealLine, TEAL, 2.5, 0, 3),
        // wicks and outlines come from the candlestick series, coloured bodies lie over them
        { type: "candlestick", name: "Siemens AG", xAxisIndex: 0, yAxisIndex: 0, barWidth: 1, silent: true, z: 4, data: candles,
          itemStyle: { color: "#000", color0: "#000", borderColor: "#000", borderColor0: "#000", borderWidth: 1 } },
        { type: "custom", name: "Körper", xAxisIndex: 0, yAxisIndex: 0, z: 5, silent: true,
          data: candles.map((c, i) => [i, c[0], c[1]]), encode: { x: 0, y: [1, 2] },
          renderItem: (_: any, api: any) => {
            const i = api.value(0), o = api.value(1), c = api.value(2);
            const a = api.coord([i, Math.max(o, c)]), b = api.coord([i, Math.min(o, c)]);
            const h = Math.max(b[1] - a[1], 1.4);
            return { type: "rect", shape: { x: a[0] - 1.7, y: a[1], width: 3.4, height: h }, style: { fill: c >= o ? GREEN : PINK } };
          } },
        lineSeries("Bollinger oben", bbUpper, "#8a8a8a", 1.1, 0, 6, 0.2),
        lineSeries("Bollinger unten", bbLower, "#8a8a8a", 1.1, 0, 6, 0.2),
        lineSeries("GD: 20", gd20, "#868686", 1.3, 0, 6, 0.2),
        lineSeries("GD: 10", gd10, "#2222ff", 1.3, 0, 7, 0.2),
        ...fibLevels.map((v, i) => lineSeries(`Fib ${fibTexts[i]}`, [[FIRST, v], [LAST, v]], FIB, 2, 0, 8)),
        lineSeries("Fib Strecke", fibMove, "#3a7fc4", 2.5, 0, 8),
        lineSeries("Trendkanal oben", channelUpper, TEAL, 2.5, 0, 8),
        lineSeries("Trendkanal unten", channelLower, TEAL, 2.5, 0, 8),
        lineSeries("Linie rot", redLine, "#ff5a5f", 2.5, 0, 9),
        { type: "scatter", name: "Fib Texte", xAxisIndex: 0, yAxisIndex: 0, symbolSize: 0, silent: true, z: 10,
          data: fibLevels.map((v, i) => ({ value: [FIRST, v], name: fibTexts[i] })),
          label: { show: true, position: [5, -15], formatter: "{b}", color: FIB, fontFamily: FONT, fontSize: 12 } },
        tagSeries("183,556", 183.556, 0, "#2222ff"),
        tagSeries("179,405", 179.405, 0, "#888888"),
        tagSeries("156,491", 156.491, 0, "#ffff00"),
        // MACD
        { type: "bar", name: "MACD Histogramm", xAxisIndex: 2, yAxisIndex: 2, barWidth: 3, silent: true, z: 2,
          data: bars(macdHist, (i) => (macdHist[i] >= 0 ? "#52d6a9" : "#f76d6d")) },
        lineSeries("MACD", macdLine, "#ff2020", 1.3, 2, 3, 0.2),
        lineSeries("Signal", macdSignal, "#2222ff", 1.3, 2, 4, 0.2),
        tagSeries("2,890", 2.89, 2, "#ff0000", 16, [1, 4]),
        tagSeries("2,088", 2.088, 2, "#2222ff", 16, [1, 4], 5, 31),
        tagSeries("0,80190", 0.8019, 2, "#ff0000", 11, [1, 2], 9, 32),
        // RSI
        { ...lineSeries("RSI", rsi, "#888888", 1, 3, 3),
          markLine: { silent: true, symbol: "none", z: 1, label: { show: false }, lineStyle: { color: REF, width: 2, type: "solid" },
            data: [{ yAxis: 70 }, { yAxis: 30 }] } },
        tagSeries("56,839", 56.839, 3, "#999999", 16, [1, 4]),
      ],
    });
    return () => chart.dispose();
  }, []);
  return <div ref={ref} style={{ width: 1760, height: 894 }} />;
}
